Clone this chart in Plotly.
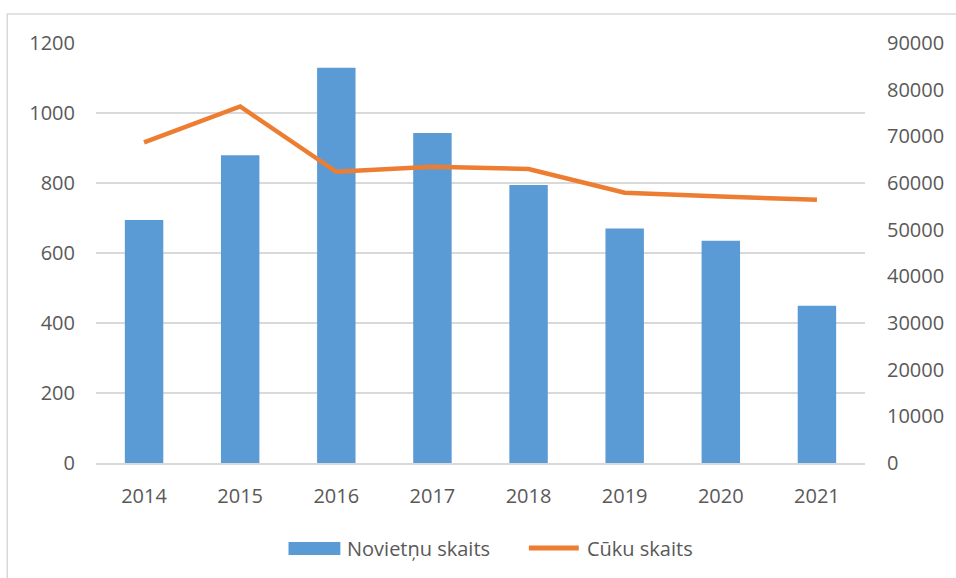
import plotly.graph_objects as go

# Data
years = ["2014", "2015", "2016", "2017", "2018", "2019", "2020", "2021"]
novietnu_skaits = [694, 879, 1129, 943, 794, 670, 635, 449]
cuku_skaits = [68700, 76400, 62400, 63500, 63000, 57900, 57100, 56400]

left_ticks = [0, 200, 400, 600, 800, 1000, 1200]
right_ticks = [0, 10000, 20000, 30000, 40000, 50000, 60000, 70000, 80000, 90000]

BAR_NAME = "Novietņu skaits"
LINE_NAME = "Cūku skaits"

BLUE = "#5B9BD5"
ORANGE = "#ED7D31"
GRID = "#D9D9D9"
TEXT = "#595959"
FONT = "Open Sans"
FS = 20

fig = go.Figure()

fig.add_trace(go.Bar(
    x=years, y=novietnu_skaits, name=BAR_NAME,
    marker=dict(color=BLUE, line=dict(width=0)),
    yaxis="y", showlegend=False,
))

fig.add_trace(go.Scatter(
    x=years, y=cuku_skaits, name=LINE_NAME,
    mode="lines", line=dict(color=ORANGE, width=4.5),
    yaxis="y2", showlegend=False,
))

# Plot area geometry (pixels)
W, H = 956, 578
L, R, T, B = 96, 89, 43, 115
pw, ph = W - L - R, H - T - B


def px_x(v):
    return (v - L) / pw


def px_y(v):
    return (H - B - v) / ph


legend_y = 548

shapes = [
    # chart border
    dict(type="rect", xref="paper", yref="paper",
         x0=px_x(7), x1=px_x(W + 5), y0=px_y(H + 5), y1=px_y(14),
         line=dict(color=GRID, width=1.5), fillcolor="rgba(0,0,0,0)", layer="below"),
    # legend keys
    dict(type="rect", xref="paper", yref="paper",
         x0=px_x(289), x1=px_x(341), y0=px_y(555), y1=px_y(542),
         line=dict(width=0), fillcolor=BLUE),
    dict(type="line", xref="paper", yref="paper",
         x0=px_x(530), x1=px_x(580), y0=px_y(legend_y), y1=px_y(legend_y),
         line=dict(color=ORANGE, width=5)),
]

annotations = [
    dict(text=BAR_NAME, xref="paper", yref="paper", x=px_x(346), y=px_y(legend_y),
         xanchor="left", yanchor="middle", showarrow=False,
         font=dict(family=FONT, size=FS, color=TEXT)),
    dict(text=LINE_NAME, xref="paper", yref="paper", x=px_x(586), y=px_y(legend_y),
         xanchor="left", yanchor="middle", showarrow=False,
         font=dict(family=FONT, size=FS, color=TEXT)),
]

fig.update_layout(
    width=W, height=H,
    margin=dict(l=L, r=R, t=T, b=B),
    paper_bgcolor="white", plot_bgcolor="white",
    font=dict(family=FONT, size=FS, color=TEXT),
    bargap=0.6,
    showlegend=False,
    xaxis=dict(
        showgrid=False, showline=True, linecolor=GRID, linewidth=1.5,
        ticks="", ticklabelstandoff=14, tickfont=dict(size=FS, color=TEXT),
        zeroline=False,
    ),
    yaxis=dict(
        range=[0, 1200], tickvals=left_ticks, ticktext=[str(v) for v in left_ticks],
        showgrid=True, gridcolor=GRID, gridwidth=1.5, zeroline=False,
        showline=False, ticks="", ticklabelstandoff=20,
        tickfont=dict(size=FS, color=TEXT),
    ),
    yaxis2=dict(
        range=[0, 90000], tickvals=right_ticks, ticktext=[str(v) for v in right_ticks],
        overlaying="y", side="right", showgrid=False, zeroline=False,
        showline=False, ticks="", ticklabelstandoff=21,
        tickfont=dict(size=FS, color=TEXT),
    ),
    shapes=shapes,
    annotations=annotations,
)

fig.write_html("out.html")
